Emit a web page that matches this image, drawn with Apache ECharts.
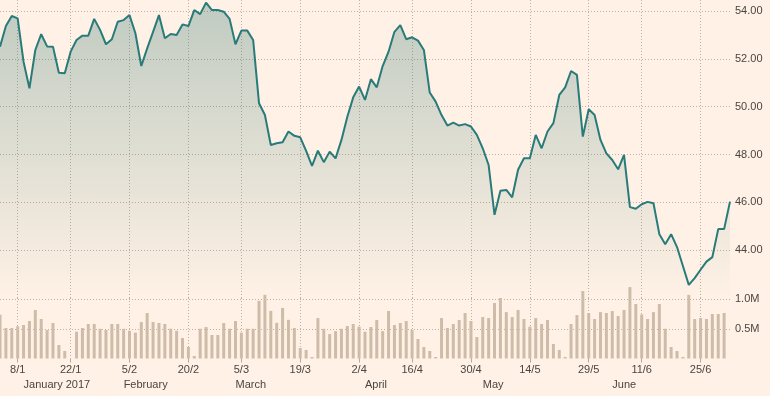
<!DOCTYPE html>
<html><head><meta charset="utf-8">
<script src="https://cdn.jsdelivr.net/npm/echarts@6/dist/echarts.min.js"></script>
<style>html,body{margin:0;padding:0;background:#fff1e5}#c{width:770px;height:396px}</style>
</head><body><div id="c"></div>
<script>
const dates = [
'2017-01-03','2017-01-04','2017-01-05','2017-01-06','2017-01-09','2017-01-10','2017-01-11','2017-01-12','2017-01-13','2017-01-17',
'2017-01-18','2017-01-19','2017-01-20','2017-01-23','2017-01-24','2017-01-25','2017-01-26','2017-01-27','2017-01-30','2017-01-31',
'2017-02-01','2017-02-02','2017-02-03','2017-02-06','2017-02-07','2017-02-08','2017-02-09','2017-02-10','2017-02-13','2017-02-14',
'2017-02-15','2017-02-16','2017-02-17','2017-02-21','2017-02-22','2017-02-23','2017-02-24','2017-02-27','2017-02-28',
'2017-03-01','2017-03-02','2017-03-03','2017-03-06','2017-03-07','2017-03-08','2017-03-09','2017-03-10','2017-03-13','2017-03-14',
'2017-03-15','2017-03-16','2017-03-17','2017-03-20','2017-03-21','2017-03-22','2017-03-23','2017-03-24','2017-03-27','2017-03-28',
'2017-03-29','2017-03-30','2017-03-31',
'2017-04-03','2017-04-04','2017-04-05','2017-04-06','2017-04-07','2017-04-10','2017-04-11','2017-04-12','2017-04-13','2017-04-17',
'2017-04-18','2017-04-19','2017-04-20','2017-04-21','2017-04-24','2017-04-25','2017-04-26','2017-04-27','2017-04-28',
'2017-05-01','2017-05-02','2017-05-03','2017-05-04','2017-05-05','2017-05-08','2017-05-09','2017-05-10','2017-05-11','2017-05-12',
'2017-05-15','2017-05-16','2017-05-17','2017-05-18','2017-05-19','2017-05-22','2017-05-23','2017-05-24','2017-05-25','2017-05-26',
'2017-05-30','2017-05-31',
'2017-06-01','2017-06-02','2017-06-05','2017-06-06','2017-06-07','2017-06-08','2017-06-09','2017-06-12','2017-06-13','2017-06-14',
'2017-06-15','2017-06-16','2017-06-19','2017-06-20','2017-06-21','2017-06-22','2017-06-23','2017-06-26','2017-06-27','2017-06-28',
'2017-06-29','2017-06-30'
];
const prices = [
52.51,53.37,53.79,53.69,51.88,50.77,52.37,53.03,52.52,52.51,
51.42,51.40,52.30,52.79,52.97,52.97,53.67,53.21,52.61,52.82,
53.55,53.62,53.83,53.07,51.70,52.44,53.13,53.83,52.86,53.04,
53.00,53.44,53.37,54.04,53.87,54.35,54.04,54.04,53.97,53.67,
52.61,53.18,53.18,52.79,50.14,49.65,48.40,48.47,48.51,48.96,
48.78,48.72,48.15,47.52,48.16,47.68,48.12,47.84,48.61,49.58,
50.39,50.84,50.28,51.15,50.81,51.70,52.30,53.13,53.41,52.82,
52.90,52.76,52.37,50.59,50.21,49.65,49.21,49.33,49.21,49.27,
49.17,48.82,48.26,47.56,45.48,46.48,46.52,46.21,47.36,47.84,
47.84,48.82,48.26,48.96,49.31,50.49,50.81,51.49,51.33,48.75,
49.89,49.65,48.61,48.05,47.77,47.38,47.98,45.80,45.73,45.92,
46.02,45.96,44.67,44.25,44.67,44.13,43.34,42.55,42.83,43.18,
43.52,43.71,44.88,44.88,46.03
];
const volumes = [
0.736,0.513,0.513,0.541,0.563,0.630,0.815,0.664,0.479,0.597,
0.227,0.126,0,0.450,0.513,0.580,0.580,0.500,0.479,0.580,
0.580,0.500,0.467,0.434,0.613,0.765,0.613,0.597,0.580,0.500,
0.467,0.345,0.193,0.042,0.500,0.529,0.395,0.395,0.597,0.500,
0.630,0.434,0.500,0.500,0.970,1.070,0.800,0.600,0.850,0.650,
0.513,0.176,0.143,0.025,0.680,0.500,0.410,0.460,0.500,0.546,
0.580,0.535,0.450,0.530,0.647,0.460,0.798,0.563,0.597,0.630,
0.479,0.328,0.193,0.126,0.025,0.680,0.513,0.580,0.647,0.765,
0.630,0.360,0.697,0.680,0.933,1.017,0.780,0.697,0.815,0.664,
0.535,0.680,0.580,0.647,0.244,0.143,0.025,0.580,0.730,1.134,
0.765,0.664,0.780,0.765,0.798,0.714,0.815,1.200,0.916,0.740,
0.664,0.780,0.916,0.500,0.193,0.126,0.025,1.070,0.664,0.680,
0.664,0.748,0.748,0.765,null
];
const tickDates = ['2017-01-06','2017-01-20','2017-02-03','2017-02-17','2017-03-03','2017-03-17','2017-03-31','2017-04-13','2017-04-28','2017-05-12','2017-05-26','2017-06-09','2017-06-23'];
const tickLabels = ['8/1','22/1','5/2','20/2','5/3','19/3','2/4','16/4','30/4','14/5','29/5','11/6','25/6'];
const monthDates = ['2017-01-09','2017-02-02','2017-03-02','2017-04-03','2017-05-02','2017-06-02'];
const monthLabels = ['January 2017','February','March','April','May','June'];

const chart = echarts.init(document.getElementById('c'), null, {renderer:'canvas'});
const font = {fontFamily:'"Liberation Sans", Arial, sans-serif', fontSize:11, color:'#4a4541'};
const dotted = {color:'#bdb1a5', width:1, type:[1,2]};
const isTick = (i, v) => tickDates.indexOf(v) >= 0;
const isMonth = (i, v) => monthDates.indexOf(v) >= 0;
const option = {
  backgroundColor:'#fff1e5',
  animation:false,
  grid:[
    {left:0, right:40, top:0, height:298, outerBoundsMode:'none'},
    {left:0, right:40, top:298, height:60.5, outerBoundsMode:'none'}
  ],
  xAxis:[
    {type:'category', gridIndex:0, data:dates, boundaryGap:false,
     axisLine:{show:false}, axisTick:{show:false}, axisLabel:{show:false},
     splitLine:{show:true, interval:isTick, lineStyle:dotted}},
    {type:'category', gridIndex:1, data:dates, boundaryGap:false,
     axisLine:{show:false},
     axisTick:{show:true, interval:isTick, length:4, lineStyle:{color:'#b3a89d'}},
     axisLabel:Object.assign({}, font, {interval:isTick, margin:6, formatter:v => tickLabels[tickDates.indexOf(v)] || ''}),
     splitLine:{show:true, interval:isTick, lineStyle:dotted}},
    {type:'category', gridIndex:1, data:dates, boundaryGap:false, position:'bottom',
     axisLine:{show:false}, axisTick:{show:false},
     axisLabel:Object.assign({}, font, {interval:isMonth, margin:21, align:'left', formatter:v => monthLabels[monthDates.indexOf(v)] || ''}),
     splitLine:{show:false}}
  ],
  yAxis:[
    {type:'value', gridIndex:0, position:'right', min:42, max:54.46, interval:2,
     axisLine:{show:false}, axisTick:{show:false},
     axisLabel:Object.assign({}, font, {margin:5, showMinLabel:false, showMaxLabel:false, formatter:v => (v >= 44 && v <= 54) ? v.toFixed(2) : ''}),
     splitLine:{show:true, showMinLine:false, showMaxLine:false, lineStyle:dotted}},
    {type:'value', gridIndex:1, position:'right', min:0, max:1.017, interval:0.5,
     axisLine:{show:false}, axisTick:{show:false},
     axisLabel:Object.assign({}, font, {margin:5, showMinLabel:false, showMaxLabel:false, formatter:v => (v > 0 && v <= 1) ? v.toFixed(1) + 'M' : ''}),
     splitLine:{show:true, showMinLine:false, showMaxLine:false, lineStyle:dotted}}
  ],
  series:[
    {type:'line', xAxisIndex:0, yAxisIndex:0, data:prices, symbol:'none', showSymbol:false,
     lineStyle:{color:'#287b79', width:2}, itemStyle:{color:'#287b79'},
     areaStyle:{origin:'start', color:new echarts.graphic.LinearGradient(0,0,0,1,[
       {offset:0, color:'rgba(40,112,108,0.42)'},{offset:1, color:'rgba(40,112,108,0)'}])}},
    {type:'bar', xAxisIndex:1, yAxisIndex:1, data:volumes, barWidth:3, clip:false,
     itemStyle:{color:'#cebca8'}}
  ]
};
chart.setOption(option);
</script></body></html>
